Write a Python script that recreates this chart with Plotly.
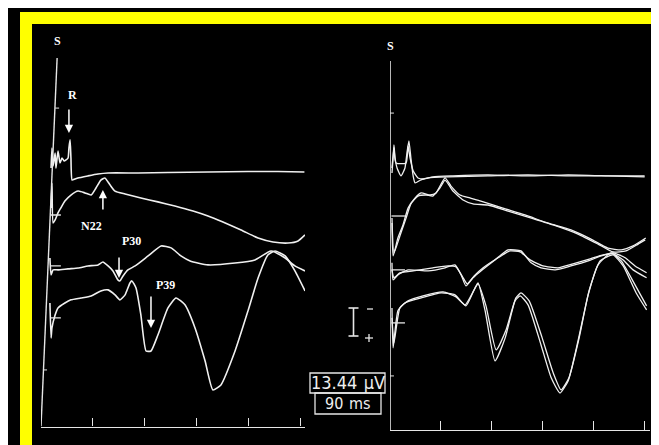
import plotly.graph_objects as go

W, H = 659, 445

# ---------------- DATA (time in ms, amplitude in µV, negative = up) ----------------
# Left recording: single sweeps, four channels
left_ch1_ms = [3.5, 3.8, 4.2, 4.9, 5.2, 5.9, 6.6, 7.3, 8.0, 8.7, 9.4, 9.7, 10.1, 10.4, 10.8, 11.8, 12.8,
               16.3, 19.8, 23.3, 33.7, 44.1, 58.0, 71.9, 82.3, 91.5]
left_ch1_uv = [-2.4, -12.0, -3.4, -9.6, -2.4, -10.6, -4.8, -7.2, -5.8, -6.3, -7.2, -12.0, -15.9, -7.2, 3.4,
               2.9, 2.4, 1.4, 0.5, 0, 0, -0.2, -0.5, -0.7, -0.7, -0.5]

left_ch2_ms = [3.5, 3.8, 4.2, 4.9, 5.9, 6.9, 8.3, 10.4, 12.9, 15.3, 17.4, 19.1, 20.8, 22.2, 24.0, 25.7,
               29.2, 34.7, 40.6, 46.5, 52.8, 58.0, 63.2, 69.5, 75.4, 80.6, 85.8, 89.3, 91.7]
left_ch2_uv = [-3.4, -15.4, 3.8, 2.4, -1.0, -3.4, -6.7, -9.6, -11.5, -10.6, -9.6, -13.0, -16.8, -17.8,
               -14.4, -11.5, -10.1, -8.2, -6.3, -4.3, -1.9, 0.5, 3.4, 7.2, 11.1, 13.0, 13.5, 12.5, 9.6]

left_ch3_ms = [3.1, 3.5, 4.2, 5.9, 9.4, 12.9, 16.3, 19.8, 21.5, 23.3, 25.0, 26.7, 27.4, 28.5, 30.2, 32.7,
               37.2, 41.7, 45.2, 48.6, 51.8, 58.0, 67.4, 74.3, 79.9, 84.8, 88.2, 91.7]
left_ch3_uv = [-3.8, 4.3, 1.9, 1.9, 1.4, 1.0, 0, -0.5, -1.9, 0, 2.4, 6.7, 7.2, 4.8, 1.9, 0, -4.8, -9.6,
               -8.7, -4.8, -2.4, -0.5, -1.4, -2.9, -7.2, -3.8, 0, 2.4]

left_ch4_ms = [3.1, 3.5, 3.8, 4.9, 5.9, 8.3, 10.4, 13.9, 17.4, 20.8, 23.3, 25.7, 27.4, 29.2, 30.9, 31.6,
               33.0, 34.7, 36.5, 38.2, 40.6, 44.1, 46.9, 50.0, 53.5, 57.0, 59.7, 62.5, 67.4, 71.9, 75.4,
               78.8, 81.3, 84.8, 88.2, 91.7]
left_ch4_uv = [-7.2, 9.6, 4.8, -1.4, -4.8, -7.2, -8.7, -9.6, -10.6, -13.0, -13.5, -11.1, -8.7, -11.1,
               -16.8, -17.8, -14.4, -1.4, 15.9, 15.9, 8.2, -4.8, -9.6, -6.3, 4.8, 20.7, 34.6, 32.2, 15.9,
               -3.4, -19.2, -30.3, -32.2, -29.8, -22.6, -13.0]

# Right recording: two superimposed sweeps (a, b) per channel
right_ch1a_ms = [0.7, 1.1, 1.4, 1.8, 2.5, 3.9, 5.3, 6.0, 6.7, 7.4, 8.2, 8.9, 11.0, 13.5, 20.6, 34.7, 48.9,
                 63.1, 77.2, 90.2]
right_ch1a_uv = [-1.9, -9.1, -15.4, -9.1, -4.3, -0.5, -4.3, -11.5, -17.3, -9.1, -0.5, 2.9, 1.4, 0.5, 0,
                 -0.5, -1.0, -0.5, -0.5, -0.5]
right_ch1b_ms = [0.7, 1.4, 2.1, 5.7, 6.4, 7.1, 8.2, 9.9, 12.0, 15.2, 22.3, 34.7, 48.9, 63.1, 77.2, 90.2]
right_ch1b_uv = [-4.3, -13.9, -6.7, -6.7, -14.9, -9.1, -2.9, 0.5, 1.0, 0, -0.5, -1.0, -0.5, -1.0, -0.5, 0]

right_ch2a_ms = [0.7, 1.1, 2.8, 4.6, 6.4, 8.9, 11.0, 14.2, 16.3, 19.5, 21.6, 24.8, 28.3, 32.2, 40.0, 47.8,
                 56.0, 64.1, 71.2, 77.2, 81.9, 86.1, 90.6]
right_ch2a_uv = [3.4, 19.2, 10.6, 4.3, -3.8, -8.7, -11.1, -10.1, -11.1, -18.3, -14.4, -10.1, -8.7, -7.2,
                 -3.8, -0.5, 3.4, 6.7, 11.1, 15.4, 16.3, 14.4, 10.6]
right_ch2b_ms = [0.7, 1.4, 3.5, 5.7, 7.4, 9.9, 12.8, 15.2, 17.7, 19.5, 22.3, 25.9, 29.4, 34.7, 41.8, 48.9,
                 57.8, 66.6, 73.7, 79.0, 83.6, 87.9, 90.4]
right_ch2b_uv = [1.0, 17.8, 9.6, 1.0, -5.8, -9.6, -10.1, -9.6, -13.5, -17.3, -12.0, -7.7, -5.8, -5.3,
                 -2.4, 0.5, 4.3, 8.7, 13.5, 17.3, 16.8, 13.5, 11.5]

right_ch3a_ms = [0.7, 1.1, 2.8, 6.4, 13.5, 19.5, 23.0, 25.2, 26.9, 29.4, 32.2, 37.2, 41.8, 46.4, 50.0,
                 53.5, 58.5, 64.1, 70.2, 74.8, 79.0, 83.3, 86.8, 90.9]
right_ch3a_uv = [-3.4, 4.8, 2.4, 0, 0.5, -1.0, -2.4, 2.4, 7.7, 3.8, 0.5, -4.8, -9.6, -9.1, -3.4, -1.0, 0,
                 -1.9, -4.3, -6.7, -8.2, -5.8, -1.9, 1.4]
right_ch3b_ms = [0.7, 1.4, 3.5, 8.2, 15.2, 20.6, 23.4, 25.9, 27.3, 29.8, 33.0, 38.3, 42.5, 46.1, 49.6,
                 54.2, 59.5, 64.8, 70.9, 75.5, 79.0, 82.6, 86.1, 90.9]
right_ch3b_uv = [0, 3.8, 1.4, 0.5, -1.0, -1.9, -1.4, 3.8, 6.7, 2.9, -1.0, -5.8, -9.1, -8.7, -4.8, -1.9,
                 -1.0, -2.9, -5.3, -7.2, -7.7, -4.8, 0, 3.8]

right_ch4a_ms = [0.7, 1.1, 2.8, 5.3, 11.0, 18.1, 23.0, 26.9, 30.1, 31.2, 33.7, 37.2, 40.8, 44.3, 46.1,
                 48.9, 53.5, 57.1, 60.2, 63.1, 66.6, 70.2, 73.7, 78.3, 81.9, 86.8, 90.9]
right_ch4a_uv = [-7.2, 12.0, -5.8, -9.6, -12.0, -14.4, -13.5, -8.2, -16.8, -19.2, -5.8, 18.3, 7.2, -10.6,
                 -13.0, -8.7, 10.6, 26.4, 33.7, 27.9, 8.7, -13.5, -27.9, -33.7, -29.8, -18.3, -8.2]
right_ch4b_ms = [0.7, 1.4, 3.5, 6.4, 11.7, 18.8, 23.4, 26.6, 29.8, 31.2, 34.0, 37.6, 41.1, 44.6, 46.4,
                 49.3, 53.9, 57.8, 60.6, 63.4, 67.0, 70.5, 74.4, 79.0, 82.6, 87.2, 90.9]
right_ch4b_uv = [-2.4, 9.6, -7.2, -10.6, -13.0, -14.9, -12.5, -8.7, -15.9, -18.8, -8.2, 13.0, 3.4, -12.0,
                 -14.4, -10.6, 7.2, 24.0, 32.2, 26.4, 7.2, -15.4, -29.8, -32.7, -27.4, -14.4, -6.3]

time_ticks_ms = [18, 36, 54, 72, 90]
calib_text = "13.44&#8201;&#8201;µV"
sweep_text = "90&#8201;&#8201;ms"

# channel baselines (display offsets, µV from top of panel)
left_offsets = [64.9, 85.1, 109.6, 134.6]
right_offsets = [66.8, 85.6, 111.5, 137.0]

# ---------------- FIGURE ----------------
def fx(px):
    return px / W

def fy(py):
    return 1 - py / H

TRACE = "#f0f0f0"
fig = go.Figure()

left_series = [(left_ch1_ms, left_ch1_uv), (left_ch2_ms, left_ch2_uv),
               (left_ch3_ms, left_ch3_uv), (left_ch4_ms, left_ch4_uv)]
for (t, v), off in zip(left_series, left_offsets):
    fig.add_trace(go.Scatter(x=t, y=[off + a for a in v], mode="lines",
                             line=dict(color=TRACE, width=1.6, shape="spline", smoothing=0.5),
                             xaxis="x", yaxis="y", hoverinfo="skip", showlegend=False))

right_series = [((right_ch1a_ms, right_ch1a_uv), (right_ch1b_ms, right_ch1b_uv)),
                ((right_ch2a_ms, right_ch2a_uv), (right_ch2b_ms, right_ch2b_uv)),
                ((right_ch3a_ms, right_ch3a_uv), (right_ch3b_ms, right_ch3b_uv)),
                ((right_ch4a_ms, right_ch4a_uv), (right_ch4b_ms, right_ch4b_uv))]
for pair, off in zip(right_series, right_offsets):
    for t, v in pair:
        fig.add_trace(go.Scatter(x=t, y=[off + a for a in v], mode="lines",
                                 line=dict(color=TRACE, width=1.3, shape="spline", smoothing=0.5),
                                 xaxis="x2", yaxis="y2", hoverinfo="skip", showlegend=False))

axis_common = dict(showline=True, linecolor="#e6e6e6", linewidth=1.4, ticks="inside",
                   tickcolor="#e6e6e6", tickwidth=1.4, tickvals=time_ticks_ms,
                   showticklabels=False, showgrid=False, zeroline=False, fixedrange=True)

fig.update_layout(
    width=W, height=H, margin=dict(l=0, r=0, t=0, b=0),
    paper_bgcolor="black", plot_bgcolor="black",
    xaxis=dict(domain=[fx(33), fx(297)], range=[0, 91.7], anchor="y", ticklen=8, **axis_common),
    yaxis=dict(domain=[fy(418.5), fy(30)], range=[186.8, 0], anchor="x", visible=False),
    xaxis2=dict(domain=[fx(382), fx(642)], range=[0, 92.1], anchor="y2", ticklen=9, **axis_common),
    yaxis2=dict(domain=[fy(422), fy(30)], range=[188.5, 0], anchor="x2", visible=False),
)

shapes = []
LC = "#e6e6e6"
# vertical axes (left one is slightly slanted in the photo)
shapes.append(dict(type="line", xref="x", yref="y", x0=0, y0=186.8, x1=5.6, y1=9.6,
                   line=dict(color=LC, width=1.4)))
shapes.append(dict(type="line", xref="x2", yref="y2", x0=0, y0=188.5, x1=0, y1=11.1,
                   line=dict(color=LC, width=1.6)))
# small ticks on vertical axes
for (x0, y0) in [(4.9, 33.7), (0.7, 159.6)]:
    shapes.append(dict(type="line", xref="x", yref="y", x0=x0, y0=y0, x1=x0 + 1.4, y1=y0,
                       line=dict(color=LC, width=1)))
for y0 in [36.1, 162.5]:
    shapes.append(dict(type="line", xref="x2", yref="y2", x0=0, y0=y0, x1=1.4, y1=y0,
                       line=dict(color=LC, width=1)))
# baseline markers
for off in left_offsets[1:]:
    shapes.append(dict(type="line", xref="x", yref="y", x0=3.3, y0=off, x1=6.9, y1=off,
                       line=dict(color=LC, width=1.3)))
for off in right_offsets[1:]:
    shapes.append(dict(type="line", xref="x2", yref="y2", x0=0.5, y0=off, x1=5.3, y1=off,
                       line=dict(color=LC, width=1.3)))

# calibration "I" symbol
def pline(x0, y0, x1, y1, w=1.6):
    return dict(type="line", xref="paper", yref="paper", x0=fx(x0), y0=fy(y0), x1=fx(x1), y1=fy(y1),
                line=dict(color=LC, width=w))

shapes += [pline(345.5, 300, 345.5, 328), pline(340.5, 300, 350.5, 300), pline(340.5, 328, 350.5, 328),
           pline(359, 301, 365, 301, 1.3), pline(357, 330, 365, 330, 1.3), pline(361, 326, 361, 334, 1.3)]
# boxes
shapes.append(dict(type="rect", xref="paper", yref="paper", x0=fx(302), x1=fx(377), y0=fy(385), y1=fy(365),
                   line=dict(color=LC, width=1.3)))
shapes.append(dict(type="rect", xref="paper", yref="paper", x0=fx(307), x1=fx(373), y0=fy(406), y1=fy(385),
                   line=dict(color=LC, width=1.3)))
# yellow frame
YEL = "#ffff00"
for (x0, y0, x1, y1) in [(12, 4, 24, 445), (12, 4, 659, 16), (12, 438, 659, 445)]:
    shapes.append(dict(type="rect", xref="paper", yref="paper", x0=fx(x0), x1=fx(x1), y0=fy(y1), y1=fy(y0),
                       fillcolor=YEL, line=dict(width=0), layer="above"))
fig.update_layout(shapes=shapes)

LBL = dict(family="Liberation Serif, DejaVu Serif, serif", size=12, color="white")
ann = []
def label(text, x, y, xref="x", yref="y"):
    ann.append(dict(text="<b>%s</b>" % text, x=x, y=y, xref=xref, yref=yref, showarrow=False, font=LBL))

def arrow(x, y, ay):
    ann.append(dict(text="", x=x, y=y, ax=x, ay=ay, xref="x", yref="y", axref="x", ayref="y",
                    showarrow=True, arrowhead=2, arrowsize=1.1, arrowwidth=1.5, arrowcolor="white"))

label("S", 5.9, 1.4)
label("S", 0, 3.8, "x2", "y2")
label("R", 11.1, 27.4)
label("N22", 17.4, 90.4)
label("P30", 31.3, 97.6)
label("P39", 43.4, 118.8)
arrow(9.7, 45.7, 33.7)
arrow(21.5, 73.1, 83.2)
arrow(27.1, 115.4, 104.8)
arrow(38.2, 139.4, 123.6)

FAM = "Liberation Sans Narrow, DejaVu Sans Condensed, sans-serif"
ann.append(dict(text=calib_text, x=fx(339.5), y=fy(385.5), xref="paper", yref="paper", showarrow=False,
                yanchor="bottom", font=dict(family=FAM, size=18, color="#eeeeee"), borderpad=0))
ann.append(dict(text=sweep_text, x=fx(340), y=fy(405.5), xref="paper", yref="paper", showarrow=False,
                yanchor="bottom", font=dict(family=FAM, size=16, color="#eeeeee"), borderpad=0))
fig.update_layout(annotations=ann)

fig.write_html("out.html")
